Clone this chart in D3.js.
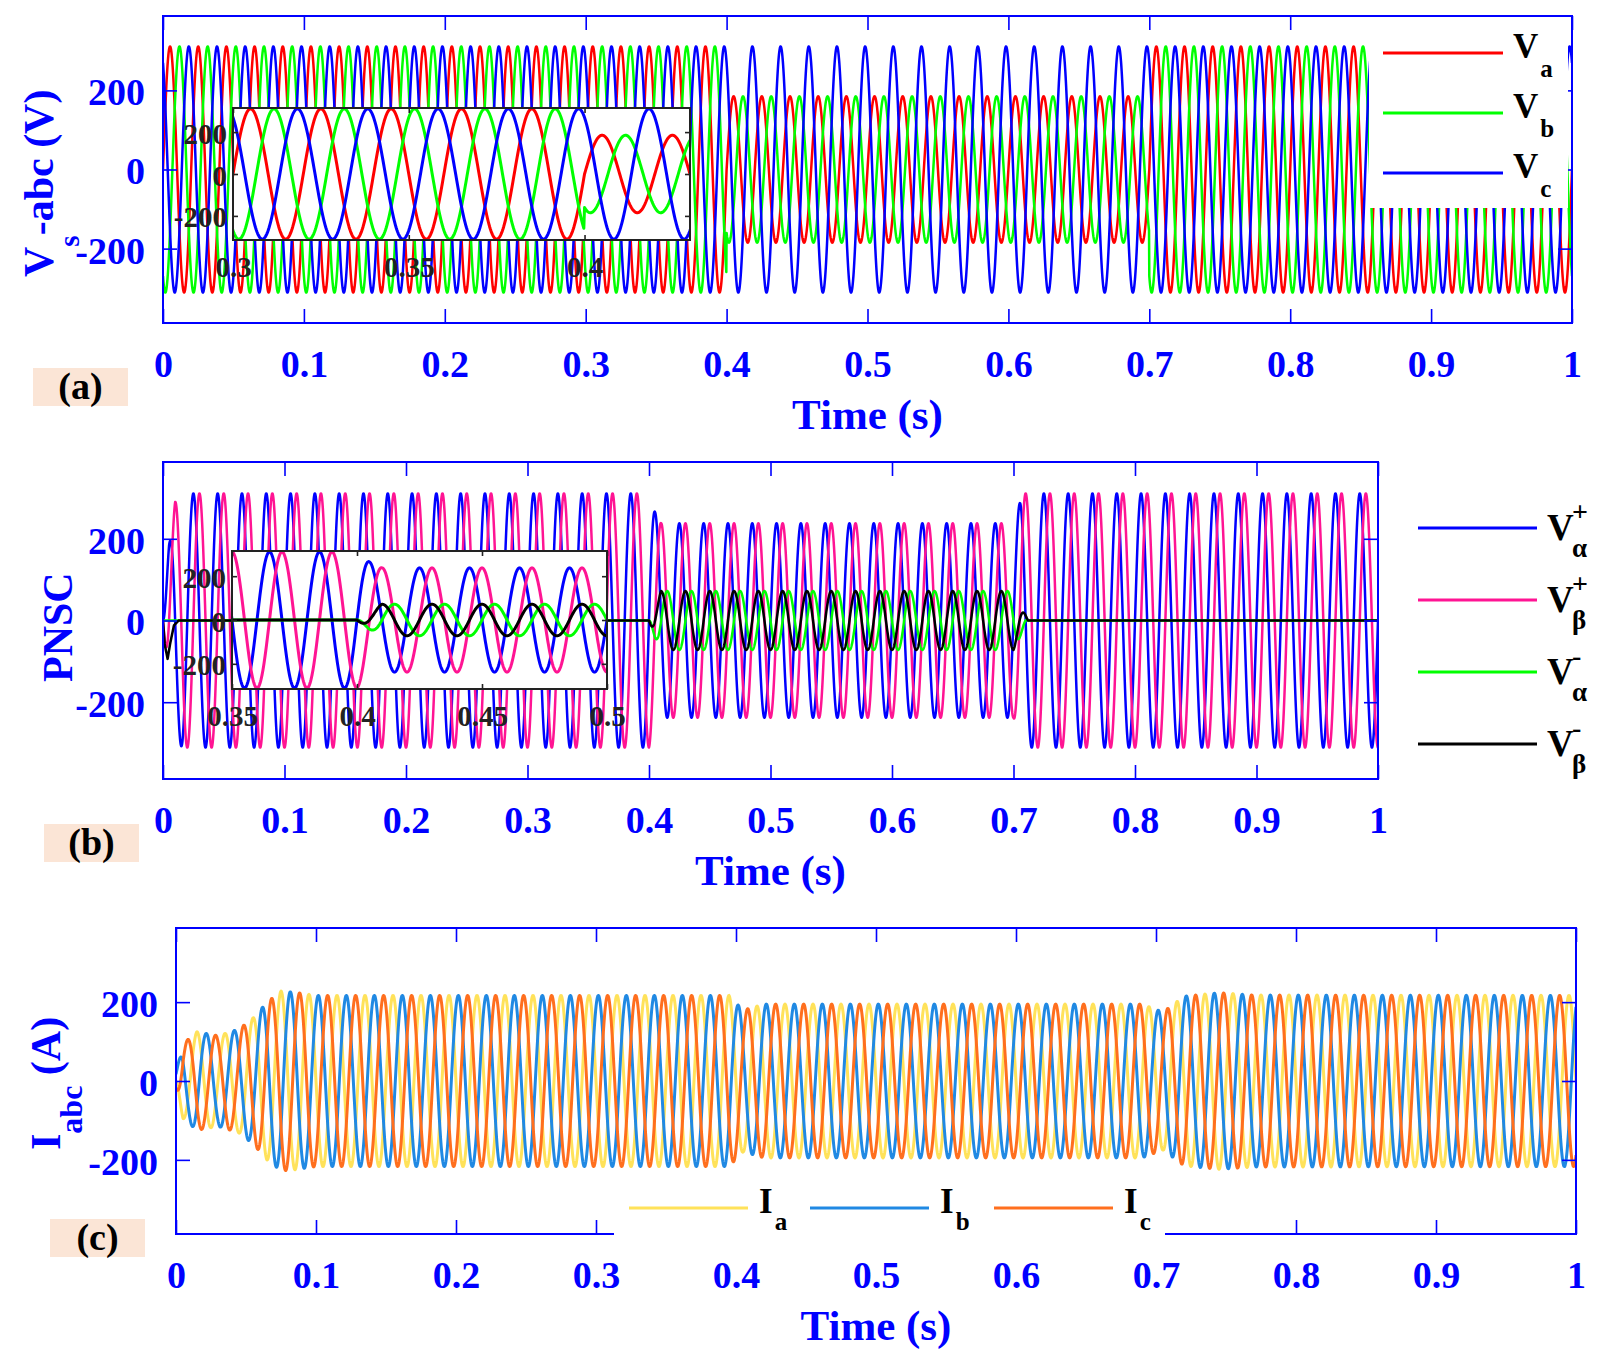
<!DOCTYPE html>
<html lang="en">
<head>
<meta charset="utf-8">
<title>Grid voltage, PNSC and current waveforms</title>
<script src="https://cdn.jsdelivr.net/npm/d3@7"></script>
<style>
	body { margin: 0; background: white; }
	svg text { font-family: "Liberation Serif", "Times New Roman", serif; font-weight: bold; }
</style>
</head>
<body>
<svg id="fig" width="1620" height="1361"></svg>
<script>
// ---- values ----
var freq = 50	//Hz, 5 cycles per 0.1 s
var xTicks = [0, 0.1, 0.2, 0.3, 0.4, 0.5, 0.6, 0.7, 0.8, 0.9, 1]
var xTickLabels = ["0", "0.1", "0.2", "0.3", "0.4", "0.5", "0.6", "0.7", "0.8", "0.9", "1"]
var yTicks = [-200, 0, 200]
var yTickLabels = ["-200", "0", "200"]
var yLimits = [-388, 388]

//(a) grid voltages: amplitude breakpoints (s, V), phase in degrees
var sagT = [0, 0.4, 0.4, 0.7, 0.7, 1]
var vaAmp = [311, 311, 185, 185, 311, 311]
var vbAmp = [311, 311, 185, 185, 311, 311]
var vcAmp = [311, 311, 311, 311, 311, 311]
var vPhase = [0, -120, 120]
var vSubs = ["a", "b", "c"]
var vColors = ["#ff0000", "#00ff00", "#0000ff"]

//(b) positive / negative sequence components
var posT = [0, 0.005, 0.01, 0.016, 0.4, 0.405, 0.41, 0.7, 0.704, 0.708, 1]
var posAmp = [0, 184, 290, 311, 311, 265, 238, 238, 278, 311, 311]
var negT = [0, 0.4, 0.405, 0.41, 0.7, 0.712, 1]
var negAmp = [0, 0, 42, 72, 72, 0, 0]
var seqPhase = [0, -90, 180, -90]	//Va+, Vb+, Va-, Vb-
var startT = [0, 0.0015, 0.0038, 0.006, 0.009, 0.0128, 1]	//Vb- start-up dip
var startV = [0, -60, -94, -55, -12, 0, 0]
var seqSup = ["+", "+", "-", "-"]
var seqSub = ["\u03b1", "\u03b2", "\u03b1", "\u03b2"]
var seqColors = ["#0000ff", "#ff1493", "#00ff00", "#000000"]

//(c) currents
var curT = [0, 0.005, 0.015, 0.03, 0.045, 0.055, 0.065, 0.075, 0.085, 0.1, 0.395, 0.405, 0.42, 0.69, 0.705, 0.72, 0.745, 0.77, 1]
var curAmp = [20, 95, 125, 115, 132, 160, 200, 228, 225, 217, 217, 180, 195, 195, 175, 215, 224, 218, 217]
var curPhase = [180, 60, 300]
var iSubs = ["a", "b", "c"]
var iColors = ["#ffe25a", "#2089e3", "#ff6f1e"]

//zoom insets
var insetATime = [0.3, 0.43]
var insetATicks = [0.3, 0.35, 0.4]
var insetATickLabels = ["0.3", "0.35", "0.4"]
var insetBTime = [0.35, 0.5]
var insetBTicks = [0.35, 0.4, 0.45, 0.5]
var insetBTickLabels = ["0.35", "0.4", "0.45", "0.5"]
var insetY = [-315, 315]

var svg = d3.select("#fig")
var blue = "#0000ff"

//piecewise linear lookup, a repeated time gives a step
function interp(ts, vs, t) {
	if (t <= ts[0]) return vs[0]
	for (var i = 1; i < ts.length; i++) {
		if (t < ts[i]) {
			var a = ts[i-1], b = ts[i]
			return vs[i-1] + (vs[i]-vs[i-1])*(t-a)/(b-a)
		}
	}
	return vs[vs.length-1]
}
var dt = 0.0002
var tGrid = d3.range(0, 1 + dt/2, dt)
function wave(ampT, ampV, phaseDeg, addT, addV) {
	var ph = phaseDeg*Math.PI/180
	return tGrid.map(function(t) {
		var v = interp(ampT, ampV, t)*Math.sin(2*Math.PI*freq*t + ph)
		if (addT) v += interp(addT, addV, t)
		return [t, v]
	})
}

var vSeries = [wave(sagT, vaAmp, vPhase[0]), wave(sagT, vbAmp, vPhase[1]), wave(sagT, vcAmp, vPhase[2])]
var seqSeries = [wave(posT, posAmp, seqPhase[0]), wave(posT, posAmp, seqPhase[1]),
	wave(negT, negAmp, seqPhase[2]), wave(negT, negAmp, seqPhase[3], startT, startV)]
var iSeries = curPhase.map(function(p) { return wave(curT, curAmp, p) })

var clipN = 0
function drawLines(box, x, y, series, colors, width) {
	var id = "clip" + (clipN++)
	svg.append("clipPath").attr("id", id).append("rect")
		.attr("x", box.l).attr("y", box.t).attr("width", box.r-box.l).attr("height", box.b-box.t)
	var line = d3.line().x(function(d) { return x(d[0]) }).y(function(d) { return y(d[1]) })
	var g = svg.append("g").attr("clip-path", "url(#" + id + ")")
	series.forEach(function(s, i) {
		g.append("path").attr("d", line(s)).attr("fill", "none")
			.attr("stroke", colors[i]).attr("stroke-width", width).attr("stroke-linejoin", "round")
	})
}

//inward ticks on all four sides, labels bottom and left
function drawTicks(box, x, y, o) {
	var fmtX = function(d, i) { return o.xLabels[i] }
	var fmtY = function(d, i) { return o.yLabels[i] }
	var axes = [
		[d3.axisBottom(x).tickValues(o.xTicks).tickFormat(fmtX).tickPadding(o.xPad), "translate(0," + box.b + ")"],
		[d3.axisTop(x).tickValues(o.xTicks).tickFormat(""), "translate(0," + box.t + ")"],
		[d3.axisLeft(y).tickValues(o.yTicks).tickFormat(fmtY).tickPadding(o.yPad), "translate(" + box.l + ",0)"],
		[d3.axisRight(y).tickValues(o.yTicks).tickFormat(""), "translate(" + box.r + ",0)"]]
	axes.forEach(function(a, k) {
		var g = svg.append("g").attr("transform", a[1])
			.call(a[0].tickSizeInner(-o.tick).tickSizeOuter(0))
		g.select(".domain").remove()
		g.selectAll("line").attr("stroke", o.color).attr("stroke-width", 1.6)
		g.selectAll("text").attr("fill", o.labelColor).attr("font-size", o.font)
			.style("font-family", null).attr("font-family", null)
		if (k == 2) g.selectAll("text").attr("dy", "0.38em")
	})
}
function drawBorder(box, color) {
	svg.append("rect").attr("x", box.l).attr("y", box.t).attr("width", box.r-box.l).attr("height", box.b-box.t)
		.attr("fill", "none").attr("stroke", color).attr("stroke-width", 2)
}
function mainPanel(box) {
	return {x: d3.scaleLinear().domain([0, 1]).range([box.l, box.r]),
		y: d3.scaleLinear().domain(yLimits).range([box.b, box.t])}
}
var mainOpts = {xTicks: xTicks, xLabels: xTickLabels, yTicks: yTicks, yLabels: yTickLabels,
	tick: 14, xPad: 27, yPad: 18, font: 38, color: blue, labelColor: blue}

function inset(box, tDom, ticks, tickLabels, series, colors) {
	var x = d3.scaleLinear().domain(tDom).range([box.l, box.r])
	var y = d3.scaleLinear().domain(insetY).range([box.b, box.t])
	svg.append("rect").attr("x", box.l).attr("y", box.t).attr("width", box.r-box.l).attr("height", box.b-box.t)
		.attr("fill", "white")
	drawLines(box, x, y, series, colors, 3)
	drawTicks(box, x, y, {xTicks: ticks, xLabels: tickLabels, yTicks: yTicks, yLabels: yTickLabels,
		tick: 5, xPad: 16, yPad: 6, font: 29, color: "#222", labelColor: "#222"})
	drawBorder(box, "#222")
}

function timeLabel(box) {
	svg.append("text").attr("x", (box.l+box.r)/2).attr("y", box.b + 106)
		.attr("text-anchor", "middle").attr("font-size", 43).attr("fill", blue).text("Time (s)")
}
function tag(x, y, s) {
	svg.append("rect").attr("x", x).attr("y", y).attr("width", 95).attr("height", 38).attr("fill", "#fbe5d6")
	svg.append("text").attr("x", x + 47.5).attr("y", y + 31).attr("text-anchor", "middle")
		.attr("font-size", 38).attr("fill", "black").text(s)
}

// ---------- (a) ----------
var boxA = {l: 163, t: 16, r: 1572, b: 323}
var pA = mainPanel(boxA)
drawLines(boxA, pA.x, pA.y, vSeries, vColors, 2.5)
inset({l: 233, t: 108, r: 690, b: 240}, insetATime, insetATicks, insetATickLabels, vSeries, vColors)
drawTicks(boxA, pA.x, pA.y, mainOpts)
svg.append("rect").attr("x", 1369).attr("y", 17).attr("width", 199).attr("height", 191).attr("fill", "white")
drawBorder(boxA, blue)
var legAy = [53, 113, 173]
vSubs.forEach(function(s, i) {
	svg.append("line").attr("x1", 1383).attr("x2", 1503).attr("y1", legAy[i]).attr("y2", legAy[i])
		.attr("stroke", vColors[i]).attr("stroke-width", 3)
	var t = svg.append("text").attr("x", 1513).attr("y", legAy[i] + 5).attr("font-size", 35).attr("fill", "black")
	t.append("tspan").text("V")
	t.append("tspan").attr("font-size", 25).attr("dx", 2).attr("dy", 19).text(s)
})
var yla = svg.append("text").attr("transform", "translate(53,277) rotate(-90)")
	.attr("font-size", 42).attr("fill", blue)
yla.append("tspan").text("V")
yla.append("tspan").attr("font-size", 29).attr("dy", 26).text("s")
yla.append("tspan").attr("dy", -26).text("-abc (V)")
timeLabel(boxA)
tag(33, 368, "(a)")

// ---------- (b) ----------
var boxB = {l: 163, t: 462, r: 1378, b: 779}
var pB = mainPanel(boxB)
drawLines(boxB, pB.x, pB.y, seqSeries, seqColors, 2.5)
inset({l: 232, t: 551, r: 607, b: 689}, insetBTime, insetBTicks, insetBTickLabels, seqSeries, seqColors)
drawTicks(boxB, pB.x, pB.y, mainOpts)
drawBorder(boxB, blue)
var legBy = [528, 600, 672, 744]
seqSup.forEach(function(s, i) {
	svg.append("line").attr("x1", 1418).attr("x2", 1537).attr("y1", legBy[i]).attr("y2", legBy[i])
		.attr("stroke", seqColors[i]).attr("stroke-width", 3)
	svg.append("text").attr("x", 1547).attr("y", legBy[i] + 12).attr("font-size", 37).attr("fill", "black").text("V")
	svg.append("text").attr("x", 1572).attr("y", legBy[i] - 7).attr("font-size", 28).attr("fill", "black").text(s)
	svg.append("text").attr("x", 1572).attr("y", legBy[i] + 29).attr("font-size", 27).attr("fill", "black").text(seqSub[i])
})
svg.append("text").attr("transform", "translate(72,682) rotate(-90)")
	.attr("font-size", 42).attr("fill", blue).text("PNSC")
timeLabel(boxB)
tag(44, 824, "(b)")

// ---------- (c) ----------
var boxC = {l: 176, t: 928, r: 1576, b: 1234}
var pC = mainPanel(boxC)
drawLines(boxC, pC.x, pC.y, iSeries, iColors, 3)
drawTicks(boxC, pC.x, pC.y, mainOpts)
drawBorder(boxC, blue)
svg.append("rect").attr("x", 614).attr("y", 1186).attr("width", 551).attr("height", 56).attr("fill", "white")
var legCx = [629, 810, 994]
iSubs.forEach(function(s, i) {
	svg.append("line").attr("x1", legCx[i]).attr("x2", legCx[i] + 119).attr("y1", 1208).attr("y2", 1208)
		.attr("stroke", iColors[i]).attr("stroke-width", 3)
	var t = svg.append("text").attr("x", legCx[i] + 130).attr("y", 1213).attr("font-size", 35).attr("fill", "black")
	t.append("tspan").text("I")
	t.append("tspan").attr("font-size", 25).attr("dx", 2).attr("dy", 17).text(s)
})
var ylc = svg.append("text").attr("transform", "translate(60,1150) rotate(-90)")
	.attr("font-size", 42).attr("fill", blue)
ylc.append("tspan").text("I")
ylc.append("tspan").attr("font-size", 32).attr("dy", 22).text("abc")
ylc.append("tspan").attr("dy", -22).text(" (A)")
timeLabel(boxC)
tag(50, 1219, "(c)")
</script>
</body>
</html>
